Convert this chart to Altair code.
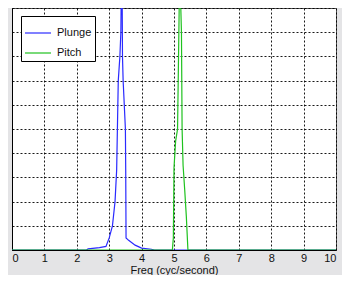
import altair as alt
import pandas as pd

plunge_f = [0.0, 2.3, 2.35, 2.7, 2.9, 3.0, 3.1, 3.18, 3.23, 3.28, 3.33, 3.36, 3.39, 3.41, 3.43, 3.50, 3.51, 3.52, 3.6, 3.8, 4.0, 4.3, 4.4, 10.0]
plunge_a = [0.0, 0.0, 0.005, 0.01, 0.015, 0.05, 0.10, 0.20, 0.33, 0.70, 0.80, 0.90, 1.3, 0.80, 0.70, 0.50, 0.33, 0.05, 0.04, 0.02, 0.008, 0.003, 0.0, 0.0]

pitch_f = [0.0, 4.95, 4.98, 5.0, 5.05, 5.11, 5.14, 5.16, 5.19, 5.21, 5.23, 5.25, 5.28, 5.33, 5.38, 5.43, 10.0]
pitch_a = [0.0, 0.0, 0.05, 0.34, 0.45, 0.5, 0.8, 1.0, 1.3, 1.0, 0.9, 0.5, 0.35, 0.25, 0.14, 0.0, 0.0]

series = ["Plunge", "Pitch"]
colors = ["#2a2aff", "#1fc21f"]

x_ticks = list(range(0, 11))
y_ticks = [i / 10 for i in range(0, 11)]

df_plunge = pd.DataFrame({"f": plunge_f, "a": plunge_a, "s": "Plunge", "o": range(len(plunge_f))})
df_pitch = pd.DataFrame({"f": pitch_f, "a": pitch_a, "s": "Pitch", "o": range(len(pitch_f))})

x_enc = alt.X("f:Q", scale=alt.Scale(domain=[0, 10], nice=False),
              axis=alt.Axis(values=x_ticks, title="Freq (cyc/second)", format="d",
                            grid=True, gridColor="#000", gridDash=[2, 2], gridOpacity=0.9,
                            domainColor="#000", ticks=False,
                            labelFont="Liberation Sans", labelFontSize=11, labelColor="#111",
                            labelPadding=2,
                            titleFont="Liberation Sans", titleFontSize=11, titleFontWeight="normal",
                            titleColor="#111", titlePadding=1))
y_enc = alt.Y("a:Q", scale=alt.Scale(domain=[0, 1], nice=False),
              axis=alt.Axis(values=y_ticks, labels=False, ticks=False, title=None,
                            grid=True, gridColor="#000", gridDash=[2, 2], gridOpacity=0.9,
                            domainColor="#000"))
color_enc = alt.Color("s:N", scale=alt.Scale(domain=series, range=colors),
                      legend=alt.Legend(title=None, orient="none", legendX=9, legendY=8,
                                        fillColor="white", strokeColor="#000",
                                        padding=3, symbolType="stroke", symbolSize=676,
                                        symbolStrokeWidth=1.2, labelFont="Liberation Sans",
                                        labelFontSize=11, labelColor="#111", labelOffset=5,
                                        rowPadding=1, cornerRadius=0))

l1 = alt.Chart(df_plunge).mark_line(clip=True, strokeWidth=1.2).encode(
    x=x_enc, y=y_enc, color=color_enc, order="o:Q")
l2 = alt.Chart(df_pitch).mark_line(clip=True, strokeWidth=1.2).encode(
    x=x_enc, y=y_enc, color=color_enc, order="o:Q")

chart = alt.layer(l1, l2).properties(
    width=324, height=242,
    padding={"left": 4, "right": 6, "top": 0, "bottom": 25},
    autosize=alt.AutoSizeParams(type="none"),
    background="#e4e4e6",
).configure_view(fill="white", stroke="#555", strokeWidth=1)

chart.save("out.html", embed_options={"renderer": "svg", "actions": False})
